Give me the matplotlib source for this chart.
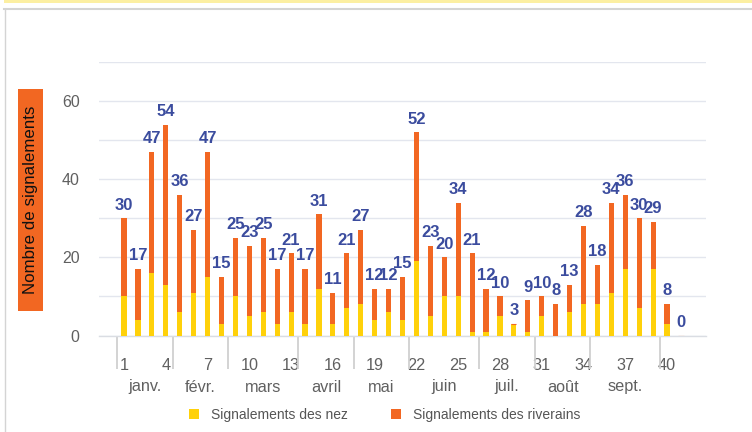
import matplotlib
matplotlib.use("Agg")
import matplotlib.pyplot as plt
from matplotlib.patches import Rectangle, Patch
from matplotlib.lines import Line2D
import matplotlib.transforms as mtransforms

plt.rcParams['font.family'] = ['Liberation Sans', 'DejaVu Sans']

# ---- data ----
weeks = list(range(1, 42))
nez = [10, 4, 16, 13, 6, 11, 15, 3, 10, 5,
       6, 3, 6, 3, 12, 3, 7, 8, 4, 6,
       4, 19, 5, 10, 10, 1, 1, 5, 3, 1,
       5, 0, 6, 8, 8, 11, 17, 7, 17, 3,
       0]
riverains = [20, 13, 31, 41, 30, 16, 32, 12, 15, 18,
             19, 14, 15, 14, 19, 8, 14, 19, 8, 6,
             11, 33, 18, 10, 24, 20, 11, 5, 0, 8,
             5, 8, 7, 20, 10, 23, 19, 23, 12, 5,
             0]
week_ticks = [1, 4, 7, 10, 13, 16, 19, 22, 25, 28, 31, 34, 37, 40]
months = ['janv.', 'févr.', 'mars', 'avril', 'mai', 'juin', 'juil.', 'août', 'sept.']
month_bounds = [0.5, 4.5, 8.5, 13.5, 17.5, 21.5, 26.5, 30.5, 34.5, 39.5]
series_names = ['Signalements des nez', 'Signalements des riverains']
y_title = 'Nombre de signalements'

# ---- style ----
C_NEZ = '#FFD10A'
C_RIV = '#F26722'
C_LAB = '#3B4C9E'
C_TXT = '#606060'

W, H = 752, 432
fig = plt.figure(figsize=(W / 100, H / 100), dpi=100)
fig.patch.set_facecolor('white')

ax = fig.add_axes([99 / W, 1 - 335.5 / H, (706 - 99) / W, (335.5 - 62) / H])

totals = [a + b for a, b in zip(nez, riverains)]
bw = 0.37
ax.bar(weeks, nez, width=bw, color=C_NEZ, linewidth=0, zorder=3)
ax.bar(weeks, riverains, bottom=nez, width=bw, color=C_RIV,
       edgecolor=C_RIV, linewidth=[0.8 if v == 0 else 0 for v in riverains], zorder=3)

for x, t in zip(weeks, totals):
    ax.annotate(str(t), (x, t), xytext=(0, 6.3), textcoords='offset points',
                ha='center', va='baseline', fontsize=12, fontweight='bold',
                color=C_LAB, zorder=5)

ax.set_xlim(-0.8, 42.8)
ax.set_ylim(0, 70)

ax.set_yticks([0, 20, 40, 60])
ax.set_yticks([10, 30, 50, 70], minor=True)
ax.grid(axis='y', which='both', color='#E3E6EE', linewidth=1.0, zorder=0)
ax.tick_params(axis='y', which='both', length=0, pad=14, labelsize=11.5, labelcolor=C_TXT)

ax.set_xticks(week_ticks)
ax.set_xticklabels([str(w) for w in week_ticks])
ax.set_xticks(month_bounds, minor=True)
ax.tick_params(axis='x', which='major', length=0, pad=16, labelsize=11.7, labelcolor=C_TXT)
ax.tick_params(axis='x', which='minor', length=23.5, width=1.3, color='#D0D0D0')

for s in ['top', 'right', 'left']:
    ax.spines[s].set_visible(False)
ax.spines['bottom'].set_color('#DADDE3')
ax.spines['bottom'].set_linewidth(1.0)

trans = mtransforms.blended_transform_factory(ax.transData, ax.transAxes)
ah = (335.5 - 62)
for i, m in enumerate(months):
    xc = (month_bounds[i] + month_bounds[i + 1]) / 2
    ax.text(xc, -(387 - 335.5) / ah, m, transform=trans, ha='center', va='center',
            fontsize=11.7, color=C_TXT)

# y-axis title in orange box
fig.add_artist(Rectangle((18 / W, 1 - 311 / H), 25 / W, 222 / H,
                         transform=fig.transFigure, facecolor=C_RIV, edgecolor='none'))
fig.text(30.5 / W, 1 - 200 / H, y_title, rotation=90, ha='center', va='center',
         fontsize=12.2, color='#111111')

# legend
handles = [Patch(facecolor=C_NEZ, edgecolor='none'), Patch(facecolor=C_RIV, edgecolor='none')]
fig.legend(handles, series_names, loc='center', bbox_to_anchor=(385 / W, 1 - 415 / H),
           ncol=2, frameon=False, fontsize=10, labelcolor='#555555',
           handlelength=0.72, handleheight=0.72, handletextpad=0.86, columnspacing=3.1)

# frame decorations
fig.add_artist(Rectangle((4 / W, 1 - 2.5 / H), (W - 4) / W, 2.5 / H,
                         transform=fig.transFigure, facecolor='#FCEFA2', edgecolor='none'))
fig.add_artist(Line2D([4 / W, 1], [1 - 9 / H, 1 - 9 / H], transform=fig.transFigure,
                      color='#D4D4D4', linewidth=1.5))
fig.add_artist(Line2D([4.5 / W, 4.5 / W], [0, 1 - 9 / H], transform=fig.transFigure,
                      color='#D4D4D4', linewidth=1.0))

fig.savefig('out.png', dpi=100)
